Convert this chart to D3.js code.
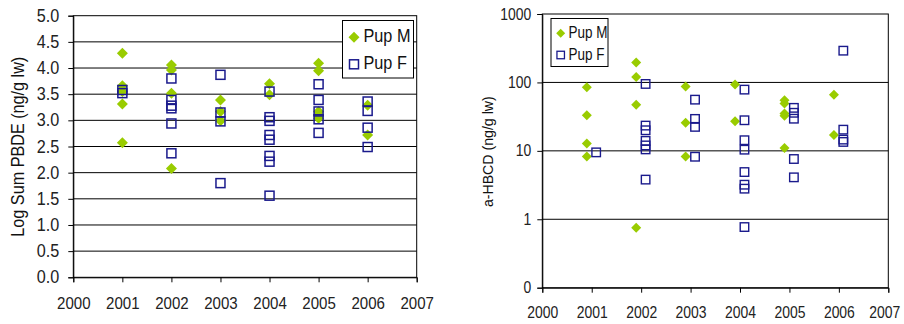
<!DOCTYPE html>
<html><head><meta charset="utf-8">
<script src="https://cdn.jsdelivr.net/npm/d3@7"></script>
<style>
html,body{margin:0;padding:0;background:#fff;}
svg{display:block;font-family:"Liberation Sans",Arial,sans-serif;}
</style></head>
<body><svg id="c" width="904" height="324"></svg>
<script>
// ---------- data ----------
const years = [2001, 2002, 2003, 2004, 2005, 2006];
const seriesNames = ["Pup M", "Pup F"];

// Left chart: Log Sum PBDE (ng/g lw), values per year
const pbdePupM = [
  [4.28, 3.66, 3.55, 3.31, 2.57],
  [4.06, 3.96, 3.52, 2.08],
  [3.39, 3.17, 2.99],
  [3.70, 3.49],
  [4.09, 3.95, 3.17, 3.10, 3.04],
  [3.29, 2.72]
];
const pbdePupF = [
  [3.58, 3.52],
  [3.80, 3.39, 3.28, 3.23, 2.94, 2.37],
  [3.87, 3.15, 2.98, 1.80],
  [3.55, 3.06, 2.99, 2.72, 2.63, 2.32, 2.21, 1.56],
  [3.69, 3.39, 3.17, 3.02, 2.76],
  [3.36, 3.18, 2.86, 2.49]
];
const pbdeTicks = [0, 0.5, 1, 1.5, 2, 2.5, 3, 3.5, 4, 4.5, 5];

// Right chart: a-HBCD (ng/g lw), values per year
const hbcdPupM = [
  [85, 33, 12.8, 8.3],
  [196, 120, 47, 0.75],
  [87, 25.7, 8.3],
  [93, 27],
  [55, 49, 35, 32.7, 11],
  [66, 17]
];
const hbcdPupF = [
  [9.5],
  [95, 23.4, 20, 14, 12, 10.5, 3.8],
  [56, 29.3, 22.4, 8.2],
  [78.5, 28, 14.3, 10.4, 4.9, 3.2, 2.8, 0.77],
  [42.5, 36, 29.5, 7.6, 4.1],
  [291, 20.4, 14.6, 13.5]
];
const hbcdTicks = [0.1, 1, 10, 100, 1000];
const hbcdTickLabels = ["0", "1", "10", "100", "1000"];
const xTicks = [2000, 2001, 2002, 2003, 2004, 2005, 2006, 2007];

// ---------- styles ----------
const GREEN = "#99cc00", NAVY = "#1a1a8c";
const svg = d3.select("#c");

function flatten(yrs, vals, off) {
  const out = [];
  vals.forEach((arr, i) => arr.forEach(v => out.push({x: yrs[i] + off, y: v})));
  return out;
}
function diamond(g, x, y, r) {
  g.append("path").attr("d", `M${x},${y-r}L${x+r},${y}L${x},${y+r}L${x-r},${y}Z`).attr("fill", GREEN);
}
function square(g, x, y, s, sw) {
  g.append("rect").attr("x", x - s/2).attr("y", y - s/2).attr("width", s).attr("height", s)
    .attr("fill", "none").attr("stroke", NAVY).attr("stroke-width", sw);
}
// size text so that the reference node's advance width equals target (cf = horizontal condense)
function fit(sel, target, cf, refIndex) {
  const nodes = sel.nodes();
  if (!nodes.length) return;
  nodes.forEach(n => { n.setAttribute("font-size", 20); n.setAttribute("font-family", "Liberation Sans, Arial, sans-serif"); });
  const ref = nodes[refIndex === undefined ? 0 : refIndex];
  const L = ref.getComputedTextLength();
  const fs = 20 * target / (L * cf);
  nodes.forEach(n => {
    n.setAttribute("font-size", fs);
    if (cf !== 1) {
      const l = n.getComputedTextLength();
      n.setAttribute("textLength", l * cf);
      n.setAttribute("lengthAdjust", "spacingAndGlyphs");
    }
  });
}

// ---------- left chart ----------
(function() {
  const x = d3.scaleLinear().domain([2000, 2007]).range([73.3, 416.7]);
  const y = d3.scaleLinear().domain([0, 5]).range([277.3, 15.7]);
  const g = svg.append("g");
  g.selectAll("line.grid").data(pbdeTicks.slice(1, -1)).join("line")
    .attr("x1", x(2000)).attr("x2", x(2007)).attr("y1", d => y(d)).attr("y2", d => y(d))
    .attr("stroke", "#000").attr("stroke-width", 1);
  g.append("rect").attr("x", x(2000)).attr("y", y(5)).attr("width", x(2007) - x(2000)).attr("height", y(0) - y(5))
    .attr("fill", "none").attr("stroke", "#000").attr("stroke-width", 1);
  const ya = g.append("g").attr("transform", `translate(${x(2000)},0)`)
    .call(d3.axisLeft(y).tickValues(pbdeTicks).tickFormat(d3.format(".1f")).tickSize(5).tickPadding(9));
  const xa = g.append("g").attr("transform", `translate(0,${y(0)})`)
    .call(d3.axisBottom(x).tickValues(xTicks).tickFormat(d3.format("d")).tickSize(5));
  [ya, xa].forEach(a => {
    a.select(".domain").attr("stroke", "#000");
    a.selectAll(".tick line").attr("stroke", "#000");
    a.selectAll("text").attr("fill", "#222");
  });
  fit(ya.selectAll("text"), 22.5, 0.92);
  fit(xa.selectAll("text"), 33.5, 0.92);
  xa.selectAll("text").attr("y", 32).attr("dy", null);
  const title = g.append("text").attr("transform", `translate(24,146.7) rotate(-90)`).attr("text-anchor", "middle")
    .attr("fill", "#111").text("Log Sum PBDE (ng/g lw)");
  fit(title, 180, 0.9);
  const pts = g.append("g");
  flatten(years, pbdePupM, 0).forEach(p => diamond(pts, x(p.x), y(p.y), 5.5));
  flatten(years, pbdePupF, 0).forEach(p => square(pts, x(p.x), y(p.y), 9, 1.5));
  const lg = g.append("g");
  lg.append("rect").attr("x", 342.5).attr("y", 20.5).attr("width", 71).attr("height", 57.5)
    .attr("fill", "#fff").attr("stroke", "#000").attr("stroke-width", 1);
  diamond(lg, 354, 37.3, 5.5);
  square(lg, 354, 64.3, 9, 1.5);
  lg.append("text").attr("x", 363.5).attr("y", 42).attr("fill", "#111").text(seriesNames[0]);
  lg.append("text").attr("x", 363.5).attr("y", 69).attr("fill", "#111").text(seriesNames[1]);
  fit(lg.selectAll("text"), 47, 0.92);
})();

// ---------- right chart ----------
(function() {
  const x = d3.scaleLinear().domain([2000, 2007]).range([542.3, 888.3]);
  const y = d3.scaleLog().domain([0.1, 1000]).range([287.7, 14]);
  const g = svg.append("g");
  g.selectAll("line.grid").data(hbcdTicks.slice(1, -1)).join("line")
    .attr("x1", x(2000)).attr("x2", x(2007)).attr("y1", d => y(d)).attr("y2", d => y(d))
    .attr("stroke", "#000").attr("stroke-width", 1);
  g.append("rect").attr("x", x(2000)).attr("y", y(1000)).attr("width", x(2007) - x(2000)).attr("height", y(0.1) - y(1000))
    .attr("fill", "none").attr("stroke", "#000").attr("stroke-width", 1);
  const ya = g.append("g").attr("transform", `translate(${x(2000)},0)`)
    .call(d3.axisLeft(y).tickValues(hbcdTicks).tickFormat((d, i) => hbcdTickLabels[i]).tickSize(5).tickPadding(6));
  const xa = g.append("g").attr("transform", `translate(0,${y(0.1)})`)
    .call(d3.axisBottom(x).tickValues(xTicks).tickFormat(d3.format("d")).tickSize(5));
  [ya, xa].forEach(a => {
    a.select(".domain").attr("stroke", "#000");
    a.selectAll(".tick line").attr("stroke", "#000");
    a.selectAll("text").attr("fill", "#222");
  });
  fit(ya.selectAll("text"), 31, 0.88, hbcdTicks.length - 1);
  fit(xa.selectAll("text"), 31, 0.86);
  xa.selectAll("text").attr("y", 30.6).attr("dy", null);
  // keep the last label inside the page
  xa.selectAll(".tick").filter(d => d === 2007).select("text").attr("x", -4);
  const title = g.append("text").attr("transform", `translate(492.7,151.7) rotate(-90)`).attr("text-anchor", "middle")
    .attr("fill", "#111").text("a-HBCD (ng/g lw)");
  fit(title, 111, 0.92);
  const pts = g.append("g");
  flatten(years, hbcdPupM, -0.1).forEach(p => diamond(pts, x(p.x), y(p.y), 5));
  flatten(years, hbcdPupF, 0.09).forEach(p => square(pts, x(p.x), y(p.y), 8.5, 1.4));
  const lg = g.append("g");
  lg.append("rect").attr("x", 551).attr("y", 18.5).attr("width", 57).attr("height", 48)
    .attr("fill", "#fff").attr("stroke", "#000").attr("stroke-width", 1);
  diamond(lg, 560.7, 33.3, 4.5);
  square(lg, 560.7, 55, 7.5, 1.3);
  lg.append("text").attr("x", 568.5).attr("y", 37.8).attr("fill", "#111").text(seriesNames[0]);
  lg.append("text").attr("x", 568.5).attr("y", 60).attr("fill", "#111").text(seriesNames[1]);
  fit(lg.selectAll("text"), 39, 0.85);
})();
</script></body></html>
